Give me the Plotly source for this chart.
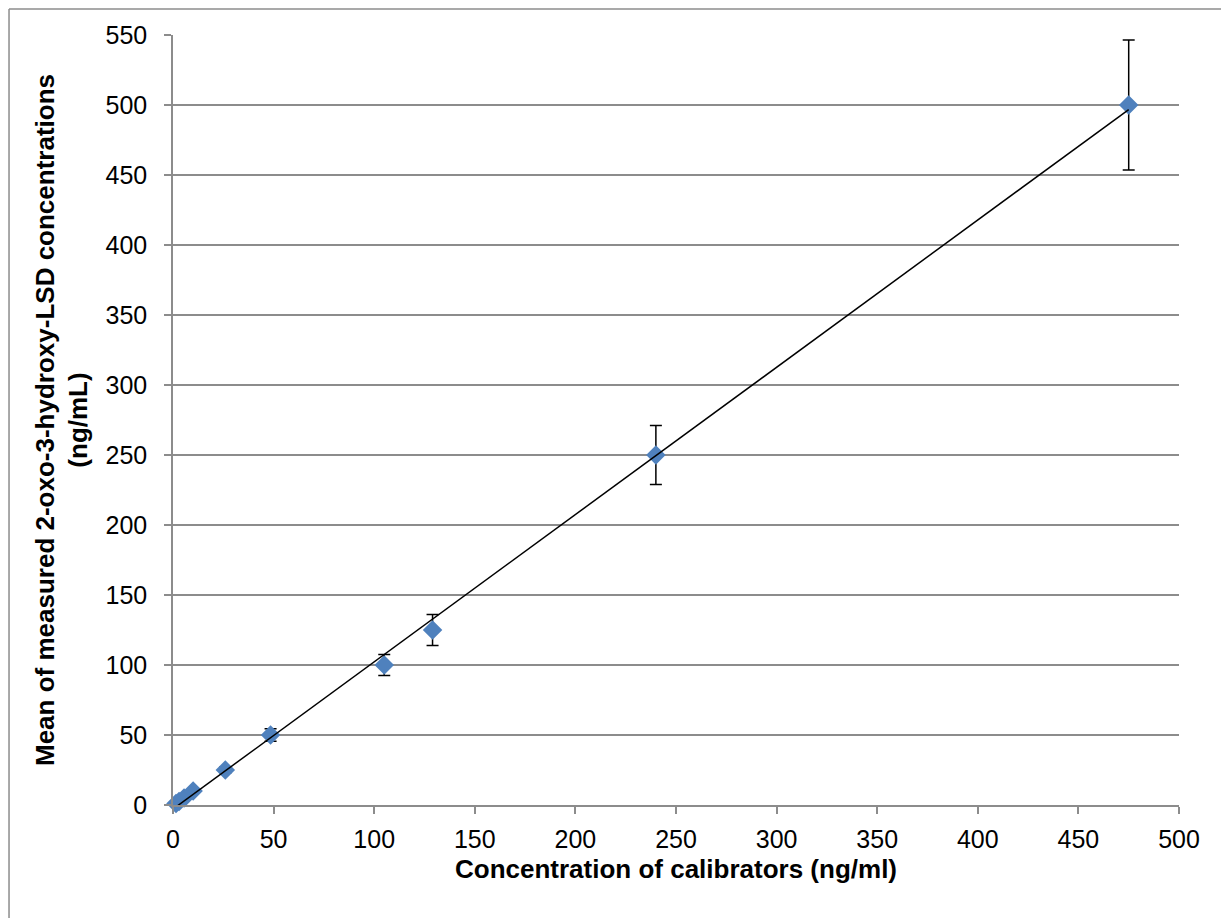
import numpy as np
import plotly.graph_objects as go

# Data
calibrator_conc = [1.5, 3.0, 5.5, 10.0, 26.0, 48.5, 105.0, 129.0, 240.0, 475.0]
measured_mean = [1.0, 2.5, 5.0, 10.0, 25.0, 50.0, 100.0, 125.0, 250.0, 500.0]
measured_sd = [0.1, 0.2, 0.4, 0.9, 2.2, 4.5, 7.5, 11.0, 21.0, 46.5]

x_ticks = list(range(0, 501, 50))
y_ticks = list(range(0, 551, 50))

# Linear trendline (least squares) over the data range
slope, intercept = np.polyfit(calibrator_conc, measured_mean, 1)
x_line = [min(calibrator_conc), max(calibrator_conc)]
y_line = [slope * v + intercept for v in x_line]

FONT = "Liberation Sans, Arial"

fig = go.Figure()
fig.add_trace(go.Scatter(
    x=calibrator_conc, y=measured_mean, mode="markers",
    marker=dict(symbol="diamond", size=15, color="#4F81BD"),
    error_y=dict(type="data", array=measured_sd, visible=True,
                 color="black", thickness=1.5, width=6),
    showlegend=False, cliponaxis=False,
))
fig.add_trace(go.Scatter(
    x=x_line, y=y_line, mode="lines",
    line=dict(color="black", width=1.5), showlegend=False,
))

axis_common = dict(
    showline=True, linecolor="#8c8c8c", linewidth=1.5,
    ticks="outside", tickcolor="#8c8c8c", ticklen=7, tickwidth=1.5,
    zeroline=False, tickfont=dict(family=FONT, size=25, color="black"),
)

# Outer chart-area border (left, top, right edges)
bx0, bx1, by0, by1 = -0.163, 1.0477, -0.1468, 1.0338
border_style = dict(color="#8c8c8c", width=1.5)
border = [
    dict(type="line", xref="paper", yref="paper", x0=bx0, x1=bx0, y0=by0, y1=by1, line=border_style),
    dict(type="line", xref="paper", yref="paper", x0=bx0, x1=bx1, y0=by1, y1=by1, line=border_style),
    dict(type="line", xref="paper", yref="paper", x0=bx1, x1=bx1, y0=by0, y1=by1, line=border_style),
]

fig.update_layout(
    width=1229, height=918,
    margin=dict(l=165, r=58, t=27, b=121),
    paper_bgcolor="white", plot_bgcolor="white",
    font=dict(family=FONT, color="black"),
    xaxis=dict(range=[0, 500], tickvals=x_ticks, showgrid=False,
               ticklabelstandoff=4,
               title=dict(text="<b>Concentration of calibrators (ng/ml)</b>",
                          font=dict(size=26), standoff=8),
               **axis_common),
    yaxis=dict(range=[0, 550], tickvals=y_ticks,
               showgrid=True, gridcolor="#8c8c8c", gridwidth=1.5,
               ticklabelstandoff=12,
               title=dict(text="<b>Mean of measured 2-oxo-3-hydroxy-LSD concentrations<br>(ng/mL)</b>",
                          font=dict(size=26), standoff=10),
               **axis_common),
    shapes=border,
)

fig.write_html("out.html")
